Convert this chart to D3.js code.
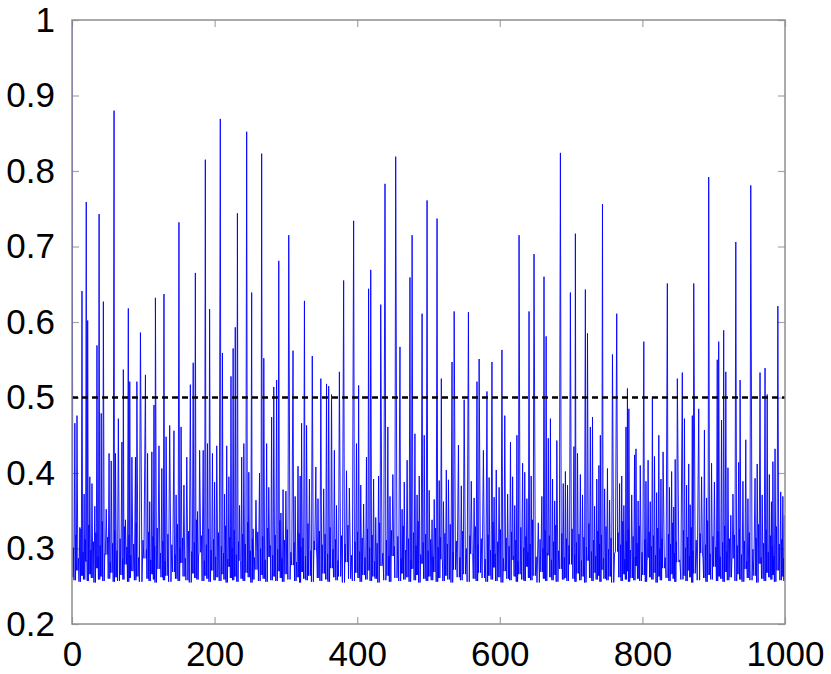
<!DOCTYPE html>
<html>
<head>
<meta charset="utf-8">
<script src="https://cdn.jsdelivr.net/npm/d3@7"></script>
<style>
  body { margin: 0; background: #fff; }
  .tick text { font-family: 'Liberation Sans', Arial, sans-serif; font-size: 35px; fill: #000; }
  .tick line { stroke: #a6a6a6; stroke-width: 1.2; }
</style>
</head>
<body>
<div class="chart"></div>
<script>
// tall and mid spikes (x in samples, y value)
var peakX = [0, 4, 7, 11, 14, 20, 22, 28, 32, 35,
  38, 41, 44, 52, 55, 59, 61, 65, 70, 72,
  79, 81, 84, 89, 91, 96, 103, 106, 112, 115,
  117, 122, 126, 129, 132, 137, 143, 150, 153, 157,
  161, 166, 170, 173, 179, 184, 187, 190, 193, 197,
  203, 208, 211, 217, 223, 226, 229, 232, 238, 241,
  245, 252, 254, 263, 266, 269, 273, 280, 283, 287,
  290, 296, 300, 304, 310, 317, 320, 322, 326, 329,
  337, 342, 349, 357, 360, 364, 368, 375, 381, 389,
  395, 399, 402, 413, 416, 419, 430, 433, 439, 443,
  454, 460, 470, 474, 477, 481, 491, 494, 498, 505,
  512, 518, 528, 533, 536, 542, 550, 556, 560, 568,
  571, 577, 582, 589, 603, 607, 615, 624, 627, 632,
  641, 644, 648, 654, 659, 662, 665, 668, 671, 680,
  685, 689, 692, 699, 704, 706, 709, 720, 723, 727,
  730, 739, 741, 744, 751, 758, 764, 768, 777, 779,
  781, 789, 791, 797, 802, 814, 817, 823, 829, 835,
  849, 856, 859, 870, 872, 879, 887, 893, 897, 905,
  907, 911, 914, 917, 924, 931, 935, 937, 945, 952,
  958, 965, 972, 975, 986, 990, 994, 999];
var peakY = [1.0, 0.466, 0.476, 0.328, 0.641, 0.759, 0.602, 0.386, 0.356, 0.569,
  0.743, 0.479, 0.627, 0.426, 0.416, 0.880, 0.426, 0.472, 0.441, 0.537,
  0.618, 0.521, 0.421, 0.421, 0.521, 0.586, 0.530, 0.426, 0.428, 0.490,
  0.632, 0.436, 0.406, 0.637, 0.448, 0.463, 0.456, 0.732, 0.461, 0.384,
  0.421, 0.517, 0.546, 0.665, 0.430, 0.430, 0.815, 0.439, 0.617, 0.426,
  0.436, 0.869, 0.559, 0.436, 0.528, 0.565, 0.593, 0.744, 0.421, 0.439,
  0.852, 0.639, 0.326, 0.400, 0.823, 0.552, 0.439, 0.474, 0.514, 0.523,
  0.681, 0.378, 0.376, 0.715, 0.562, 0.409, 0.396, 0.466, 0.628, 0.463,
  0.555, 0.408, 0.525, 0.518, 0.515, 0.504, 0.430, 0.534, 0.655, 0.380,
  0.734, 0.439, 0.516, 0.421, 0.644, 0.669, 0.396, 0.623, 0.783, 0.461,
  0.819, 0.567, 0.417, 0.659, 0.715, 0.452, 0.611, 0.450, 0.761, 0.338,
  0.737, 0.525, 0.391, 0.547, 0.614, 0.437, 0.497, 0.613, 0.389, 0.521,
  0.551, 0.430, 0.508, 0.547, 0.563, 0.476, 0.441, 0.450, 0.715, 0.413,
  0.614, 0.396, 0.690, 0.334, 0.369, 0.660, 0.581, 0.446, 0.472, 0.443,
  0.824, 0.386, 0.402, 0.639, 0.435, 0.717, 0.426, 0.643, 0.585, 0.461,
  0.474, 0.410, 0.450, 0.756, 0.406, 0.557, 0.611, 0.386, 0.461, 0.512,
  0.485, 0.424, 0.432, 0.410, 0.574, 0.501, 0.422, 0.450, 0.428, 0.651,
  0.525, 0.533, 0.472, 0.476, 0.651, 0.485, 0.457, 0.792, 0.413, 0.550,
  0.574, 0.470, 0.589, 0.534, 0.344, 0.706, 0.414, 0.523, 0.444, 0.781,
  0.393, 0.533, 0.539, 0.504, 0.432, 0.621, 0.375, 0.344];

// smaller bumps in the dense band
var fillX = [17, 25, 48, 75, 109, 146, 176, 200, 214, 220, 235, 248,
  258, 276, 293, 313, 333, 345, 353, 371, 385, 405,
  409, 423, 426, 446, 450, 463, 466, 484, 487, 501,
  508, 515, 521, 525, 546, 564, 585, 592, 595, 599,
  611, 618, 621, 635, 638, 674, 677, 695, 713, 716,
  733, 736, 747, 754, 771, 774, 785, 794, 805, 808,
  811, 820, 826, 838, 841, 844, 846, 862, 865, 867,
  883, 890, 901, 920, 927, 941, 948, 961, 968, 978,
  981, 983, 997];
var fillY = [0.372, 0.395, 0.352, 0.338, 0.362, 0.371, 0.349, 0.388, 0.372, 0.395, 0.357, 0.401,
  0.364, 0.381, 0.347, 0.369, 0.392, 0.366, 0.379, 0.357, 0.403, 0.384,
  0.359, 0.392, 0.341, 0.369, 0.398, 0.352, 0.388, 0.371, 0.396, 0.377,
  0.365, 0.390, 0.362, 0.404, 0.383, 0.367, 0.394, 0.368, 0.404, 0.381,
  0.372, 0.395, 0.357, 0.401, 0.366, 0.392, 0.363, 0.384, 0.398, 0.371,
  0.356, 0.392, 0.379, 0.364, 0.396, 0.357, 0.371, 0.363, 0.389, 0.417,
  0.362, 0.374, 0.392, 0.381, 0.402, 0.355, 0.418, 0.384, 0.412, 0.358,
  0.395, 0.367, 0.388, 0.407, 0.372, 0.389, 0.366, 0.412, 0.371, 0.398,
  0.362, 0.415, 0.369];

// minima between neighbouring bumps, left to right
var troughY = [0.262, 0.258, 0.271, 0.256, 0.264, 0.259, 0.283, 0.257, 0.266, 0.261, 0.255, 0.274, 0.259, 0.263, 0.257, 0.292, 0.26, 0.268, 0.256, 0.262,
  0.257, 0.265, 0.259, 0.279, 0.256, 0.261, 0.27, 0.258, 0.263, 0.256, 0.287, 0.26, 0.257, 0.266, 0.259, 0.255, 0.273, 0.262, 0.258, 0.264,
  0.256, 0.269, 0.26, 0.257, 0.281, 0.263, 0.258, 0.255, 0.267, 0.261, 0.259, 0.295, 0.257, 0.264, 0.26, 0.256, 0.271, 0.258, 0.262, 0.257,
  0.266, 0.259, 0.255, 0.276, 0.261, 0.258, 0.263, 0.256, 0.284, 0.26, 0.257, 0.268, 0.262, 0.255, 0.259, 0.272, 0.257, 0.265, 0.26, 0.256,
  0.289, 0.258, 0.263, 0.257, 0.27, 0.261, 0.256, 0.266, 0.259, 0.278, 0.257, 0.262, 0.255, 0.269, 0.26, 0.258, 0.264, 0.256, 0.298, 0.261,
  0.257, 0.267, 0.259, 0.256, 0.274, 0.262, 0.258, 0.263, 0.255, 0.282, 0.26, 0.257, 0.268, 0.261, 0.256, 0.265, 0.259, 0.271, 0.257, 0.263,
  0.26, 0.255, 0.277, 0.258, 0.264, 0.256, 0.29, 0.261, 0.257, 0.267, 0.259, 0.262, 0.256, 0.273, 0.258, 0.265, 0.255, 0.28, 0.26, 0.257,
  0.263, 0.258, 0.269, 0.256, 0.261, 0.286, 0.257, 0.264, 0.259, 0.255, 0.272, 0.262, 0.258, 0.266, 0.256, 0.293, 0.26, 0.257, 0.268, 0.261,
  0.256, 0.264, 0.259, 0.275, 0.257, 0.262, 0.255, 0.27, 0.26, 0.258, 0.285, 0.263, 0.256, 0.266, 0.259, 0.257, 0.276, 0.261, 0.258, 0.264,
  0.255, 0.269, 0.26, 0.257, 0.291, 0.262, 0.258, 0.265, 0.256, 0.273, 0.259, 0.261, 0.257, 0.279, 0.26, 0.256, 0.267, 0.258, 0.263, 0.255,
  0.284, 0.261, 0.257, 0.268, 0.259, 0.264, 0.256, 0.272, 0.26, 0.258, 0.263, 0.255, 0.296, 0.262, 0.257, 0.266, 0.259, 0.27, 0.256, 0.261,
  0.258, 0.277, 0.26, 0.257, 0.265, 0.256, 0.288, 0.262, 0.259, 0.268, 0.255, 0.263, 0.258, 0.274, 0.261, 0.257, 0.266, 0.26, 0.256, 0.282,
  0.259, 0.264, 0.257, 0.271, 0.262, 0.255, 0.267, 0.258, 0.294, 0.261, 0.256, 0.265, 0.259, 0.276, 0.257, 0.263, 0.26, 0.256, 0.269, 0.258,
  0.262, 0.287, 0.257, 0.266, 0.259, 0.256, 0.273, 0.261, 0.258, 0.264, 0.255, 0.28, 0.26, 0.257, 0.268, 0.262, 0.259, 0.265, 0.256, 0.271,
  0.258, 0.263, 0.257, 0.278, 0.26, 0.256, 0.266, 0.259, 0.262, 0.257];

// low ripple between the two minima of each gap
var rippleY = [0.301, 0.318, 0.287, 0.326, 0.295, 0.312, 0.284, 0.331, 0.298, 0.309, 0.321, 0.289, 0.304, 0.336, 0.293, 0.315, 0.282, 0.307, 0.324, 0.297,
  0.313, 0.286, 0.329, 0.302, 0.318, 0.291, 0.306, 0.334, 0.288, 0.311, 0.299, 0.322, 0.285, 0.316, 0.303, 0.327, 0.294, 0.31, 0.283, 0.319,
  0.305, 0.292, 0.332, 0.3, 0.314, 0.287, 0.323, 0.296, 0.308, 0.338, 0.29, 0.317, 0.284, 0.305, 0.326, 0.298, 0.312, 0.289, 0.321, 0.303,
  0.294, 0.33, 0.286, 0.315, 0.301, 0.324, 0.292, 0.309, 0.283, 0.319, 0.306, 0.335, 0.297, 0.313, 0.288, 0.322, 0.3, 0.316, 0.285, 0.327,
  0.304, 0.291, 0.318, 0.299, 0.337, 0.287, 0.311, 0.325, 0.295, 0.308, 0.282, 0.32, 0.302, 0.314, 0.29, 0.333, 0.297, 0.31, 0.286, 0.323,
  0.305, 0.319, 0.293, 0.328, 0.299, 0.312, 0.284, 0.317, 0.306, 0.331, 0.291, 0.309, 0.322, 0.296, 0.314, 0.288, 0.326, 0.301, 0.318, 0.283,
  0.307, 0.334, 0.294, 0.311, 0.29, 0.324, 0.303, 0.316, 0.287, 0.33, 0.298, 0.313, 0.285, 0.321, 0.304, 0.336, 0.292, 0.308, 0.319, 0.297,
  0.312, 0.289, 0.327, 0.302, 0.315, 0.284, 0.32, 0.306, 0.332, 0.295, 0.31, 0.288, 0.323, 0.3, 0.317, 0.291, 0.329, 0.305, 0.313, 0.286,
  0.318, 0.298, 0.335, 0.293, 0.309, 0.325, 0.287, 0.314, 0.303, 0.322, 0.29, 0.311, 0.283, 0.328, 0.301, 0.316, 0.295, 0.306, 0.338, 0.289,
  0.312, 0.3, 0.324, 0.294, 0.317, 0.285, 0.309, 0.331, 0.297, 0.32, 0.288, 0.313, 0.304, 0.326, 0.292, 0.308, 0.319, 0.284, 0.315, 0.302,
  0.333, 0.296, 0.311, 0.29, 0.323, 0.306, 0.318, 0.287, 0.329, 0.299, 0.314, 0.293, 0.321, 0.305, 0.336, 0.286, 0.31, 0.325, 0.298, 0.316,
  0.289, 0.307, 0.33, 0.295, 0.312, 0.284, 0.322, 0.303, 0.317, 0.291, 0.327, 0.3, 0.313, 0.288, 0.319, 0.306, 0.334, 0.294, 0.309, 0.285,
  0.324, 0.301, 0.315, 0.29, 0.328, 0.297, 0.311, 0.32, 0.287, 0.305, 0.337, 0.293, 0.316, 0.302, 0.323, 0.289, 0.308, 0.33, 0.296, 0.313,
  0.286, 0.318, 0.304, 0.326, 0.292, 0.31, 0.283, 0.321, 0.299, 0.314, 0.332, 0.288, 0.307, 0.325, 0.295, 0.317, 0.303, 0.29, 0.329, 0.306,
  0.312, 0.287, 0.32, 0.298, 0.315, 0.293, 0.327, 0.301, 0.309, 0.284];

var thresholdY = 0.5;
var xTicks = [0, 200, 400, 600, 800, 1000];
var yTicks = [0.2, 0.3, 0.4, 0.5, 0.6, 0.7, 0.8, 0.9, 1];

var width = 831,
  height = 674,
  plotLeft = 72,
  plotRight = 785,
  plotTop = 20,
  plotBottom = 624;

var svgEl = d3
  .select('.chart')
  .append('svg')
  .attr('width', width)
  .attr('height', height);

var xScale = d3.scaleLinear().domain([0, 1000]).range([plotLeft, plotRight]);
var yScale = d3.scaleLinear().domain([0.2, 1]).range([plotBottom, plotTop]);

// merge spikes and bumps; each gap goes down, ripples, goes down again
var pts = peakX
  .map((x, i) => [x, peakY[i]])
  .concat(fillX.map((x, i) => [x, fillY[i]]))
  .sort((a, b) => a[0] - b[0]);

var series = [];
pts.forEach((p, i) => {
  series.push(p);
  if (i < pts.length - 1) {
    var gap = pts[i + 1][0] - p[0];
    series.push([p[0] + gap * 0.3, troughY[i]]);
    series.push([p[0] + gap * 0.5, rippleY[i]]);
    series.push([p[0] + gap * 0.7, troughY[i + 1]]);
  }
});

svgEl
  .append('clipPath')
  .attr('id', 'plot-clip')
  .append('rect')
  .attr('x', plotLeft)
  .attr('y', plotTop)
  .attr('width', plotRight - plotLeft)
  .attr('height', plotBottom - plotTop);

var fmt = (d) => +d.toFixed(1) + '';

svgEl
  .append('g')
  .attr('transform', 'translate(0,' + plotBottom + ')')
  .call(d3.axisBottom(xScale).tickValues(xTicks).tickSize(-7).tickPadding(17).tickFormat(d3.format('d')))
  .call((g) => g.select('.domain').remove());

svgEl
  .append('g')
  .attr('transform', 'translate(0,' + plotTop + ')')
  .call(d3.axisTop(xScale).tickValues(xTicks).tickSize(-7).tickFormat(''))
  .call((g) => g.select('.domain').remove());

svgEl
  .append('g')
  .attr('transform', 'translate(' + plotLeft + ',0)')
  .call(d3.axisLeft(yScale).tickValues(yTicks).tickSize(-7).tickPadding(17).tickFormat(fmt))
  .call((g) => g.select('.domain').remove());

svgEl
  .append('g')
  .attr('transform', 'translate(' + plotRight + ',0)')
  .call(d3.axisRight(yScale).tickValues(yTicks).tickSize(-7).tickFormat(''))
  .call((g) => g.select('.domain').remove());

svgEl
  .append('path')
  .datum(series)
  .attr('clip-path', 'url(#plot-clip)')
  .attr('fill', 'none')
  .attr('stroke', '#0000ff')
  .attr('stroke-width', 0.9)
  .attr(
    'd',
    d3
      .line()
      .x((d) => xScale(d[0]))
      .y((d) => yScale(d[1]))
  );

svgEl
  .append('line')
  .attr('x1', xScale(0))
  .attr('x2', xScale(1000))
  .attr('y1', yScale(thresholdY))
  .attr('y2', yScale(thresholdY))
  .attr('stroke', '#000')
  .attr('stroke-width', 2.6)
  .attr('stroke-dasharray', '6,4');

svgEl
  .append('rect')
  .attr('x', plotLeft)
  .attr('y', plotTop)
  .attr('width', plotRight - plotLeft)
  .attr('height', plotBottom - plotTop)
  .attr('fill', 'none')
  .attr('stroke', '#8f8f8f')
  .attr('stroke-width', 1.5);
</script>
</body>
</html>
